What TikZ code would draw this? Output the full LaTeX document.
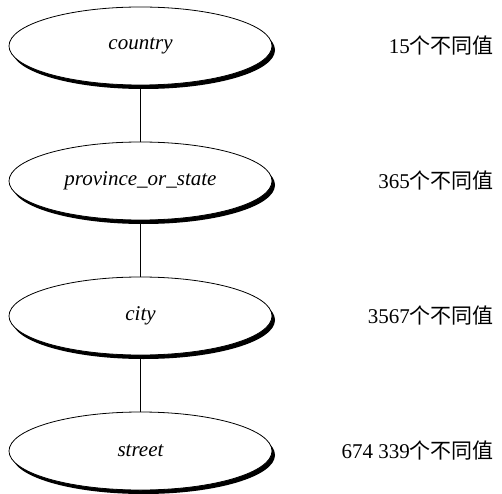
\documentclass[tikz,border=0pt]{standalone}
\usepackage{fontspec}
\setmainfont{Liberation Serif}
\newfontfamily\cjk{Noto Sans CJK SC}
\usetikzlibrary{shapes.geometric,shadows}
\begin{document}
\begin{tikzpicture}[x=1pt,y=1pt,
  lev/.style={ellipse, draw=black, line width=0.8pt, fill=white,
    minimum width=263pt, minimum height=78pt, inner sep=0pt,
    font=\fontsize{21}{24}\selectfont\itshape,
    drop shadow={shadow xshift=3pt, shadow yshift=-4pt, fill=black, opacity=1}},
  cnt/.style={anchor=east, inner sep=0pt, font=\fontsize{21}{24}\selectfont},
  link/.style={line width=0.8pt}]
\useasboundingbox (0,0) rectangle (502,493);
\node[lev] (c) at (140.5,447) {country};
\node[lev] (p) at (140.5,312) {province\_or\_state};
\node[lev] (t) at (140.5,177) {city};
\node[lev] (s) at (140.5,42) {street};
\draw[link] (c.south) -- (p.north);
\draw[link] (p.south) -- (t.north);
\draw[link] (t.south) -- (s.north);
\node[cnt] (nc) at (494,447) {15{\cjk 个不同值}};
\node[cnt] (np) at (494,312) {365{\cjk 个不同值}};
\node[cnt] (nt) at (494,177) {3567{\cjk 个不同值}};
\node[cnt] (ns) at (494,42) {674 339{\cjk 个不同值}};
\end{tikzpicture}
\end{document}
